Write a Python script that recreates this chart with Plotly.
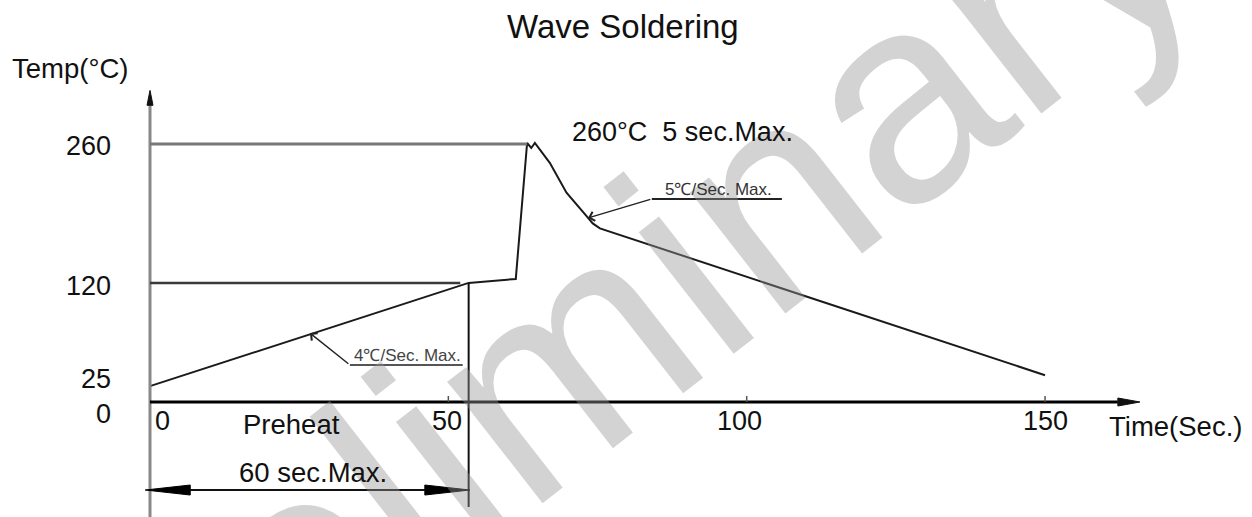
import plotly.graph_objects as go

# ---------------- data ----------------
time_s = [0, 53.4, 61.3, 63.2, 63.9, 64.5, 67.0, 69.8, 73.2, 74.2, 75.4, 150.0]
temp_c = [16, 120, 124, 261, 256, 261, 241, 211, 187, 180, 175, 27]

x_tick_vals = [0, 50, 100, 150]
x_tick_text = ["0", "50", "100", "150"]
y_tick_vals = [260, 120, 25, 0]
y_tick_text = ["260", "120", "25", "0"]

peak_temp = 260
peak_time = 63.2
preheat_temp = 120
preheat_line_end = 52.0
preheat_end = 53.4
preheat_arrow_y = -88.7

# ---------------- canvas / scale ----------------
W, H = 1252, 517
X0_PX, PX_PER_S = 150.0, 5.967
Y0_PX, PX_PER_C = 402.0, 0.9923
x_range = [(0 - X0_PX) / PX_PER_S, (W - X0_PX) / PX_PER_S]
y_range = [(Y0_PX - H) / PX_PER_C, Y0_PX / PX_PER_C]


def dx(p):
    return p / PX_PER_S


def dy(p):
    return p / PX_PER_C


FONT = "Liberation Sans, Arial, Helvetica, sans-serif"
BLACK = "#111111"

fig = go.Figure()

# temperature profile
fig.add_trace(go.Scatter(x=time_s, y=temp_c, mode="lines",
                         line=dict(color="#1a1a1a", width=2),
                         hoverinfo="skip", showlegend=False))

shapes = []
# y axis (gray) with arrow
y_axis_top = 299
y_axis_tip = 314
shapes.append(dict(type="line", x0=0, x1=0, y0=y_range[0], y1=y_axis_top,
                   line=dict(color="#888888", width=3)))
shapes.append(dict(type="path",
                   path=f"M {-dx(3)},{y_axis_top} L {dx(3)},{y_axis_top} L 0,{y_axis_tip} Z",
                   fillcolor="#111111", line=dict(color="#111111", width=1)))
# x axis with arrow
x_axis_end = 162.2
x_axis_tip = 165.9
shapes.append(dict(type="line", x0=0, x1=x_axis_end, y0=0, y1=0,
                   line=dict(color="#000000", width=3)))
shapes.append(dict(type="path",
                   path=f"M {x_axis_end},{dy(4)} L {x_axis_end},{-dy(4)} L {x_axis_tip},0 Z",
                   fillcolor="#111111", line=dict(color="#111111", width=1)))
# small ticks
for tv in x_tick_vals[1:]:
    shapes.append(dict(type="line", x0=tv, x1=tv, y0=0, y1=dy(6),
                       line=dict(color="#555555", width=1.5)))
# reference lines
shapes.append(dict(type="line", x0=0, x1=peak_time, y0=peak_temp, y1=peak_temp,
                   line=dict(color="#777777", width=3)))
shapes.append(dict(type="line", x0=0, x1=preheat_line_end, y0=preheat_temp, y1=preheat_temp,
                   line=dict(color="#3a3a3a", width=2.5)))
shapes.append(dict(type="line", x0=preheat_end, x1=preheat_end, y0=preheat_temp,
                   y1=(Y0_PX - 507) / PX_PER_C,
                   line=dict(color="#111111", width=2)))
# 60 sec double arrow
a_left, a_right = -0.8, 53.6
head_len, head_half = dx(45), dy(5)
shapes.append(dict(type="line", x0=a_left + head_len, x1=a_right - head_len,
                   y0=preheat_arrow_y, y1=preheat_arrow_y,
                   line=dict(color="#111111", width=2)))
shapes.append(dict(type="path",
                   path=(f"M {a_left},{preheat_arrow_y} L {a_left + head_len},{preheat_arrow_y + head_half} "
                         f"L {a_left + head_len},{preheat_arrow_y - head_half} Z"),
                   fillcolor="#000000", line=dict(color="#000000", width=1)))
shapes.append(dict(type="path",
                   path=(f"M {a_right},{preheat_arrow_y} L {a_right - head_len},{preheat_arrow_y + head_half} "
                         f"L {a_right - head_len},{preheat_arrow_y - head_half} Z"),
                   fillcolor="#000000", line=dict(color="#000000", width=1)))
# underlines of the slope notes
note1_tail = (33.5, 37.3)
note1_tip = (26.8, 69.5)
note1_end = 52.4
note2_tail = (84.1, 204.6)
note2_tip = (73.4, 185.4)
note2_end = 105.9
shapes.append(dict(type="line", x0=note1_tail[0], x1=note1_end, y0=note1_tail[1], y1=note1_tail[1],
                   line=dict(color="#555555", width=2)))
shapes.append(dict(type="line", x0=note2_tail[0], x1=note2_end, y0=note2_tail[1], y1=note2_tail[1],
                   line=dict(color="#222222", width=2)))

annotations = []
# watermark
annotations.append(dict(text="Preliminary", xref="paper", yref="paper",
                        x=580 / W, y=1 - 347 / H, xanchor="center", yanchor="middle",
                        textangle=-38, showarrow=False,
                        font=dict(family=FONT, size=292, color="rgba(150,150,150,0.42)")))

# leader arrows
for tip, tail in [(note1_tip, note1_tail), (note2_tip, note2_tail)]:
    annotations.append(dict(x=tip[0], y=tip[1], ax=tail[0], ay=tail[1], axref="x", ayref="y",
                            xref="x", yref="y", text="", showarrow=True, arrowhead=4,
                            arrowsize=1.3, arrowwidth=1.4, arrowcolor="#222222", standoff=0))

annotations.append(dict(text="4℃/Sec. Max.", x=(note1_tail[0] + note1_end) / 2 + dx(1), y=note1_tail[1],
                        xref="x", yref="y", yshift=9, showarrow=False,
                        font=dict(family=FONT, size=17, color="#444444")))
annotations.append(dict(text="5℃/Sec. Max.", x=(note2_tail[0] + note2_end) / 2 + dx(2), y=note2_tail[1],
                        xref="x", yref="y", yshift=9, showarrow=False,
                        font=dict(family=FONT, size=17, color="#333333")))

# tick labels
x_shifts = [12, -1, -7, 0]
for v, t, s in zip(x_tick_vals, x_tick_text, x_shifts):
    annotations.append(dict(text=t, x=v, y=0, xref="x", yref="y", xshift=s, yshift=-19,
                            showarrow=False, xanchor="center", yanchor="middle",
                            font=dict(family=FONT, size=27, color=BLACK)))
y_shifts = [-2, -3, -2, -12]
for v, t, s in zip(y_tick_vals, y_tick_text, y_shifts):
    annotations.append(dict(text=t, x=dx(113 - X0_PX), y=v, xref="x", yref="y", yshift=s,
                            showarrow=False, xanchor="right", yanchor="middle",
                            font=dict(family=FONT, size=27, color=BLACK)))

# other labels
def pp(x, y):
    return x / W, 1 - y / H

for text, (px, py), size, xa in [
    ("Wave Soldering", (623, 27), 33, "center"),
    ("Temp(°C)", (10, 68), 27.5, "left"),
    ("260°C\u00a0 5 sec.Max.", (682, 132), 27, "center"),
    ("Preheat", (291, 424), 27.5, "center"),
    ("60 sec.Max.", (313, 472), 27.5, "center"),
    ("Time(Sec.)", (1107, 426), 27.5, "left"),
]:
    x, y = pp(px, py)
    annotations.append(dict(text=text, x=x, y=y, xref="paper", yref="paper",
                            xanchor=xa, yanchor="middle", showarrow=False,
                            font=dict(family=FONT, size=size, color=BLACK)))

fig.update_layout(
    width=W, height=H, autosize=False,
    margin=dict(l=0, r=0, t=0, b=0, pad=0),
    paper_bgcolor="white", plot_bgcolor="white",
    xaxis=dict(range=x_range, visible=False, fixedrange=True),
    yaxis=dict(range=y_range, visible=False, fixedrange=True),
    shapes=shapes, annotations=annotations, showlegend=False,
)

fig.write_html("out.html", config={"displayModeBar": False},
               post_script="document.body.style.margin='0';document.body.style.overflow='hidden';")
